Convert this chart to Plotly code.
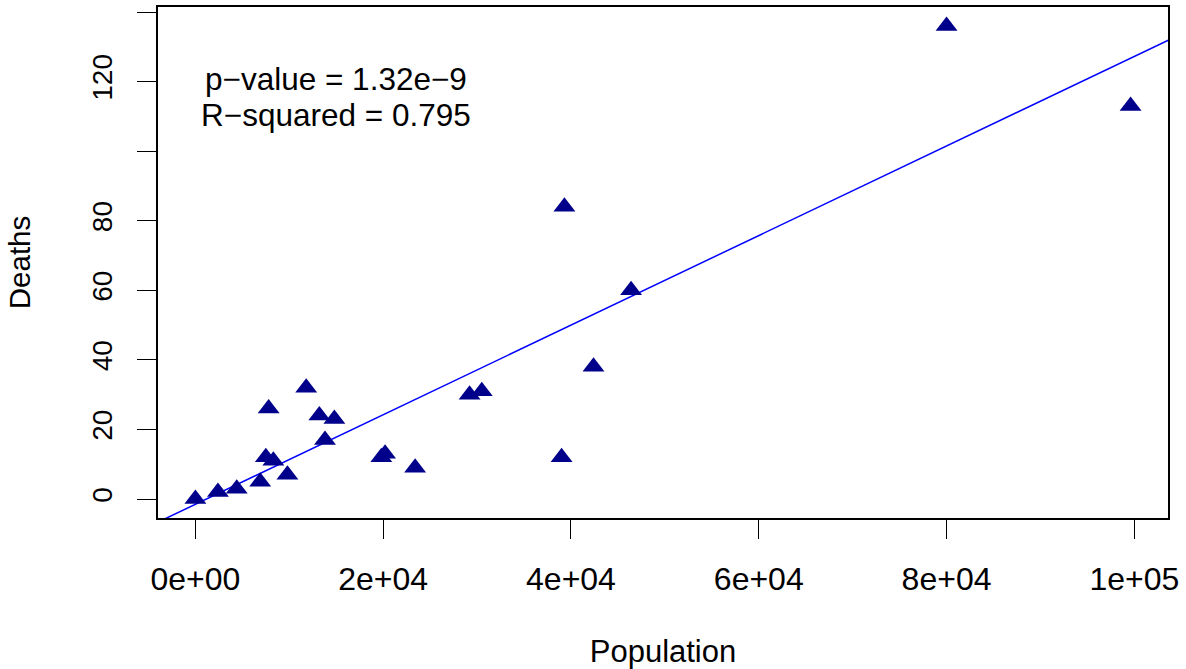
import numpy as np
import plotly.graph_objects as go

# ---- data ----
population = [0, 2400, 4400, 6900, 7500, 8300, 9800, 7800, 11800, 13200, 14800, 13800,
              19800, 20200, 23400, 29200, 30500, 39000, 39300, 42400, 46400, 80000, 99600]
deaths = [0, 2, 3, 5, 12, 11, 7, 26, 32, 24, 23, 17,
          12, 13, 9, 30, 31, 12, 84, 38, 60, 136, 113]

x_tick_vals = [0, 20000, 40000, 60000, 80000, 100000]
x_tick_text = ["0e+00", "2e+04", "4e+04", "6e+04", "8e+04", "1e+05"]
y_tick_vals = [0, 20, 40, 60, 80, 100, 120, 140]
y_tick_text = ["0", "20", "40", "60", "80", "", "120", ""]

stats_lines = ["p\u2212value = 1.32e\u22129", "R\u2212squared = 0.795"]
stats_x = 15000
stats_y = [120.7, 110.5]

# ---- regression (abline of lm) ----
xa = np.array(population, dtype=float)
ya = np.array(deaths, dtype=float)
slope, intercept = np.polyfit(xa, ya, 1)

def r_range(v):
    lo, hi = min(v), max(v)
    d = (hi - lo) * 0.04
    return [lo - d, hi + d]

xr = r_range(population)
yr = r_range(deaths)
span = xr[1] - xr[0]
line_x = [xr[0] - span, xr[1] + span]
line_y = [intercept + slope * v for v in line_x]

FONT = "Liberation Sans, Arial, Helvetica, sans-serif"

fig = go.Figure()
fig.add_trace(go.Scatter(x=line_x, y=line_y, mode="lines",
                         line=dict(color="#0000FF", width=1.5),
                         hoverinfo="skip", showlegend=False))
fig.add_trace(go.Scatter(x=population, y=deaths, mode="markers",
                         marker=dict(symbol="triangle-up", size=19, color="#00008B",
                                     line=dict(width=0)),
                         showlegend=False))

for txt, yy in zip(stats_lines, stats_y):
    fig.add_annotation(x=stats_x, y=yy, text=txt, showarrow=False,
                       xanchor="center", yanchor="middle",
                       font=dict(family=FONT, size=31.5, color="black"))

axis_common = dict(showgrid=False, zeroline=False, showline=True, mirror=True,
                   linecolor="black", linewidth=1.5, ticks="outside", ticklen=19,
                   tickwidth=1.3, tickcolor="black", automargin=False)

fig.update_layout(
    width=1186, height=669,
    margin=dict(l=158, r=18, t=7, b=151),
    paper_bgcolor="white", plot_bgcolor="white",
    showlegend=False,
    xaxis=dict(range=xr, tickmode="array", tickvals=x_tick_vals, ticktext=x_tick_text,
               tickfont=dict(family=FONT, size=32, color="black"),
               ticklabelstandoff=13,
               title=dict(text="Population", font=dict(family=FONT, size=31, color="black"),
                          standoff=47),
               **axis_common),
    yaxis=dict(range=yr, tickmode="array", tickvals=y_tick_vals, ticktext=y_tick_text,
               tickangle=-90,
               tickfont=dict(family=FONT, size=28, color="black"),
               ticklabelstandoff=14,
               title=dict(text="Deaths", font=dict(family=FONT, size=29.5, color="black"),
                          standoff=48),
               **axis_common),
)

fig.write_html("out.html")
